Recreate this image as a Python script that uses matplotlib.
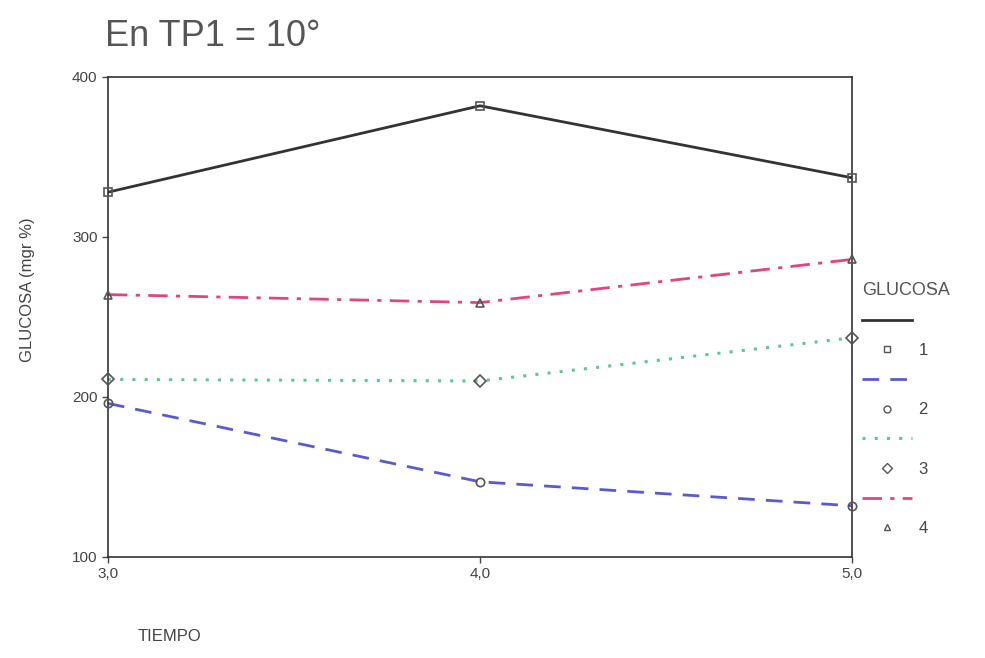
import numpy as np
from matplotlib import pyplot as plt
from matplotlib.lines import Line2D

plt.rcParams['font.family'] = ['Liberation Sans', 'DejaVu Sans']

# Tiempo (horas) y glucosa (mgr %) por grupo
tiempo = [3.0, 4.0, 5.0]
grupo_1 = [328, 382, 337]
grupo_2 = [196, 147, 132]
grupo_3 = [211, 210, 237]
grupo_4 = [264, 259, 286]
x_labels = ["3,0", "4,0", "5,0"]
y_ticks = [100, 200, 300, 400]
series_names = ["1", "2", "3", "4"]

fig = plt.figure(figsize=(9.85, 6.58), dpi=100)
ax = fig.add_axes([0.1096, 0.1535, 0.7554, 0.7295])

gray = '#444444'
styles = [
    (grupo_1, '-', '#333333', 's', 2.0),
    (grupo_2, (0, (6, 4)), '#5a5ad0', 'o', 2.0),
    (grupo_3, (0, (1, 3)), '#5cc896', 'D', 2.2),
    (grupo_4, (0, (7, 3, 1.5, 3)), '#e04580', '^', 2.0),
]

for y, ls, col, mk, lw in styles:
    ax.plot(tiempo, y, linestyle=ls, color=col, linewidth=lw, zorder=2)
    ax.plot(tiempo, y, linestyle='none', marker=mk, markersize=6,
            mfc='none', mec='#555555', mew=1.2, zorder=3, clip_on=False)

ax.set_xlim(3, 5)
ax.set_ylim(100, 400)
ax.set_xticks(tiempo)
ax.set_xticklabels(x_labels)
ax.set_yticks(y_ticks)
ax.tick_params(labelsize=11, colors=gray, length=4, width=1)
for s in ax.spines.values():
    s.set_color('#333333')
    s.set_linewidth(1.2)

fig.text(0.107, 0.945, "En TP1 = 10°", fontsize=26, color='#555555', va='center', ha='left')
fig.text(0.028, 0.56, "GLUCOSA (mgr %)", fontsize=12, color=gray, rotation=90, va='center', ha='center')
fig.text(0.14, 0.032, "TIEMPO", fontsize=12, color=gray, va='center', ha='left')

# Leyenda: muestra de línea, luego marcador con número
handles = []
labels = []
for (y, ls, col, mk, lw), name in zip(styles, series_names):
    handles.append(Line2D([], [], linestyle=ls, color=col, linewidth=lw))
    labels.append(" ")
    handles.append(Line2D([], [], linestyle='none', marker=mk, markersize=5,
                          mfc='none', mec='#555555', mew=1.0))
    labels.append(name)

leg = fig.legend(handles, labels, title="GLUCOSA", loc='upper left',
                 bbox_to_anchor=(0.868, 0.582), frameon=False, fontsize=12,
                 title_fontsize=13, handlelength=3.0, labelspacing=0.88,
                 handletextpad=0.4, borderaxespad=0)
leg.get_title().set_color('#555555')
leg._legend_box.align = "left"
for t in leg.get_texts():
    t.set_color(gray)

plt.savefig("out.png", dpi=100)
